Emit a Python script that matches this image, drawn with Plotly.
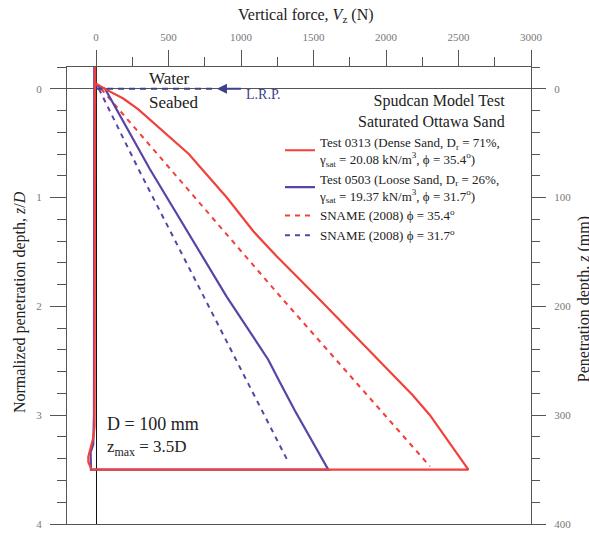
import plotly.graph_objects as go

# ---------------- data ----------------
# Test 0313 (dense sand): penetration then extraction path
t0313_force = [-5, -5, 74, 188, 292, 510, 640, 745, 902, 1085, 1246, 1522, 1855, 2186, 2303, 2568,
               -30, -53, -53, -19, -10, -6]
t0313_depth = [-0.2, -0.05, 0.01, 0.09, 0.19, 0.45, 0.60, 0.76, 1.00, 1.31, 1.54, 1.91, 2.37, 2.82, 3.00, 3.50,
               3.50, 3.43, 3.38, 3.21, 3.10, -0.2]

# Test 0503 (loose sand)
t0503_force = [-8, -8, 62, 372, 901, 1039, 1188, 1269, 1372, 1602,
               -35, -37, -19, -14, -12]
t0503_depth = [-0.2, -0.03, 0.00, 0.74, 1.91, 2.19, 2.49, 2.70, 2.96, 3.50,
               3.50, 3.34, 3.27, 3.00, -0.2]

# SNAME (2008) predictions
sname354_force = [35, 522, 1265, 2303]
sname354_depth = [0.0, 0.75, 1.90, 3.47]
sname317_force = [20, 292, 745, 1326]
sname317_depth = [0.0, 0.736, 1.915, 3.43]

# L.R.P. marker (force values along the seabed line)
lrp_line_force = [0, 834]
lrp_arrow_force = [834, 1010]

x_ticks = [0, 500, 1000, 1500, 2000, 2500, 3000]
y_ticks = [0, 1, 2, 3, 4]
y2_ticks = [0, 100, 200, 300, 400]

RED = "#f2403a"
PURPLE = "#5b43a6"
NAVY = "#3c4088"
AX = "#555555"
SERIF = "Liberation Serif, Times New Roman, serif"
TICKF = dict(family=SERIF, size=11, color="#777777")

fig = go.Figure()

fig.add_trace(go.Scatter(x=sname354_force, y=sname354_depth, mode="lines",
                         line=dict(color=RED, width=2, dash="5px,5px"),
                         name="SNAME (2008) ϕ = 35.4<sup>o</sup>", legendrank=3))
fig.add_trace(go.Scatter(x=sname317_force, y=sname317_depth, mode="lines",
                         line=dict(color=PURPLE, width=2, dash="5px,5px"),
                         name="SNAME (2008) ϕ = 31.7<sup>o</sup>", legendrank=4))
fig.add_trace(go.Scatter(x=t0503_force, y=t0503_depth, mode="lines",
                         line=dict(color=PURPLE, width=2.2),
                         name="Test 0503 (Loose Sand, D<sub>r</sub> = 26%,<br>γ<sub>sat</sub> = 19.37 kN/m<sup>3</sup>, ϕ = 31.7<sup>o</sup>)",
                         legendrank=2))
fig.add_trace(go.Scatter(x=t0313_force, y=t0313_depth, mode="lines",
                         line=dict(color=RED, width=2.2),
                         name="Test 0313 (Dense Sand, D<sub>r</sub> = 71%,<br>γ<sub>sat</sub> = 20.08 kN/m<sup>3</sup>, ϕ = 35.4<sup>o</sup>)",
                         legendrank=1))
# depth in mm on the secondary axis (invisible, keeps right axis alive)
fig.add_trace(go.Scatter(x=[t0313_force[0]], y=[t0313_depth[0] * 100], yaxis="y2", mode="markers",
                         marker=dict(opacity=0), showlegend=False, hoverinfo="skip"))

# L.R.P. dashed seabed line
fig.add_trace(go.Scatter(x=lrp_line_force, y=[0, 0], mode="lines",
                         line=dict(color=NAVY, width=2, dash="6px,5px"), showlegend=False, hoverinfo="skip"))

fig.update_layout(
    width=589, height=536,
    margin=dict(l=67, r=58, t=67, b=6),
    plot_bgcolor="white", paper_bgcolor="white",
    showlegend=True,
    legend=dict(x=0.459, y=0.869, xanchor="left", yanchor="top",
                font=dict(family=SERIF, size=13, color="#222222"),
                bgcolor="rgba(0,0,0,0)", itemwidth=30, tracegroupgap=0),
    xaxis=dict(side="top", range=[-200, 3000], tickvals=x_ticks,
               ticks="outside", ticklen=16, tickwidth=1, tickcolor=AX,
               minor=dict(dtick=250, tick0=0, ticks="outside", ticklen=9, tickcolor=AX),
               showline=True, linecolor=AX, linewidth=1, mirror=True,
               showgrid=False, zeroline=True, zerolinecolor="#111111", zerolinewidth=1,
               tickfont=TICKF, ticklabelstandoff=5),
    yaxis=dict(range=[4, -0.2], tickvals=y_ticks,
               ticks="outside", ticklen=16, tickwidth=1, tickcolor=AX,
               minor=dict(dtick=0.2, tick0=0, ticks="outside", ticklen=9, tickcolor=AX),
               showline=True, linecolor=AX, linewidth=1,
               showgrid=False, zeroline=True, zerolinecolor=AX, zerolinewidth=1,
               tickfont=TICKF, ticklabelstandoff=6),
    yaxis2=dict(overlaying="y", side="right", range=[400, -20], tickvals=y2_ticks,
                ticks="outside", ticklen=14, tickwidth=1, tickcolor=AX,
                minor=dict(dtick=20, tick0=0, ticks="outside", ticklen=8, tickcolor=AX),
                showline=True, linecolor=AX, linewidth=1,
                showgrid=False, zeroline=False,
                tickfont=TICKF, ticklabelstandoff=6),
)

ann = []
ann.append(dict(text="Vertical force, <i>V</i><sub>z</sub> (N)", xref="paper", yref="paper",
                x=0.515, y=1.112, xanchor="center", yanchor="middle", showarrow=False,
                font=dict(family=SERIF, size=16, color="#222222")))
ann.append(dict(text="Normalized penetration depth, <i>z</i>/<i>D</i>", xref="paper", yref="paper",
                x=-0.101, y=0.486, xanchor="center", yanchor="middle", textangle=-90, showarrow=False,
                font=dict(family=SERIF, size=16, color="#222222")))
ann.append(dict(text="Penetration depth, <i>z</i> (mm)", xref="paper", yref="paper",
                x=1.113, y=0.493, xanchor="center", yanchor="middle", textangle=-90, showarrow=False,
                font=dict(family=SERIF, size=16, color="#222222")))
ann.append(dict(text="Spudcan Model Test<br>Saturated Ottawa Sand", x=2834, y=0.015,
                xanchor="right", yanchor="top", align="right", showarrow=False,
                font=dict(family=SERIF, size=16, color="#222222")))
ann.append(dict(text="Water", x=503, y=-0.092, xanchor="center", yanchor="middle", showarrow=False,
                font=dict(family=SERIF, size=17, color="#222222")))
ann.append(dict(text="Seabed", x=541, y=0.13, xanchor="center", yanchor="middle", showarrow=False,
                font=dict(family=SERIF, size=17, color="#222222")))
ann.append(dict(text="D = 100 mm", x=62, y=3.08, xanchor="left", yanchor="middle", showarrow=False,
                font=dict(family=SERIF, size=18, color="#222222")))
ann.append(dict(text="z<sub>max</sub> = 3.5D", x=62, y=3.30, xanchor="left", yanchor="middle", showarrow=False,
                font=dict(family=SERIF, size=17, color="#222222")))
ann.append(dict(text="L.R.P.", x=1021, y=0.05, xanchor="left", yanchor="middle", showarrow=False,
                font=dict(family=SERIF, size=14, color=NAVY)))
ann.append(dict(text="", x=lrp_arrow_force[0], y=0, ax=lrp_arrow_force[1], ay=0, axref="x", ayref="y",
                showarrow=True, arrowhead=2, arrowsize=1, arrowwidth=2, arrowcolor=NAVY))
fig.update_layout(annotations=ann)

fig.write_html("out.html")
